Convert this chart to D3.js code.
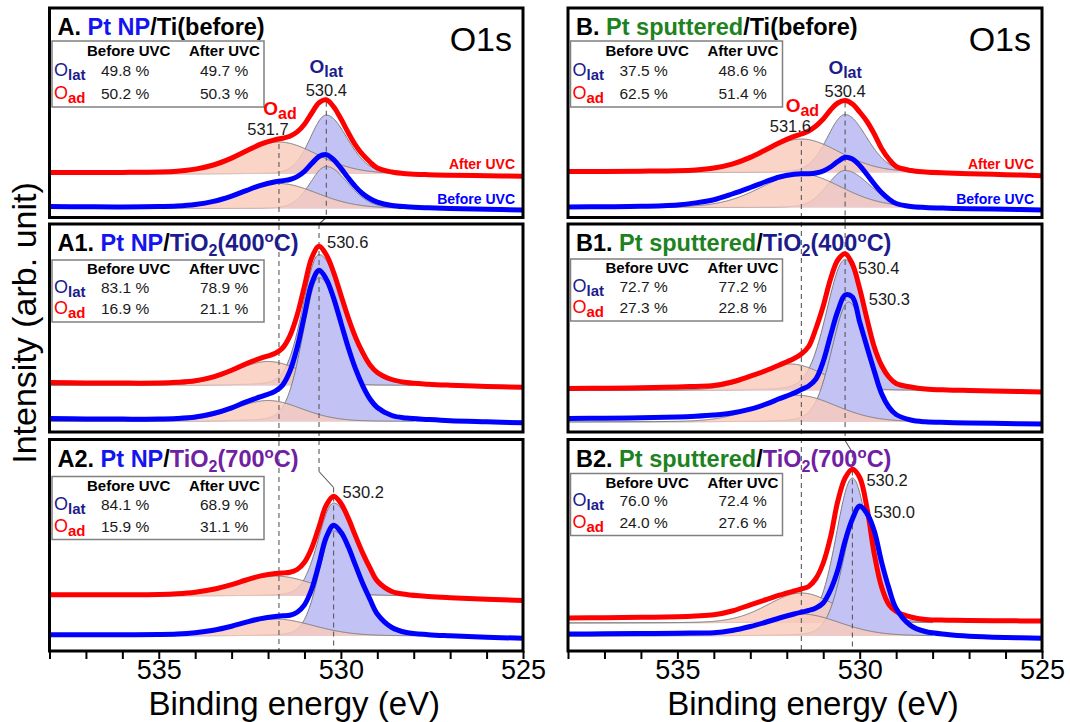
<!DOCTYPE html>
<html>
<head>
<meta charset="utf-8">
<script src="https://cdn.jsdelivr.net/npm/d3@7"></script>
<style>
  html, body { margin: 0; padding: 0; background: #ffffff; }
  svg { display: block; font-family: "Liberation Sans", Arial, Helvetica, sans-serif; }
</style>
</head>
<body>
<svg id="chart" width="1070" height="722"></svg>
<script>
// ---------------------------------------------------------------
// O 1s XPS spectra of Pt / Ti and Pt / TiO2 samples, before and
// after UVC exposure, with their O_lat / O_ad fit components.
// ---------------------------------------------------------------

// binding energies (eV) at which every measured spectrum is sampled
const energyGrid = [538, 537, 536, 535, 534.5, 534, 533.5, 533, 532.6, 532.2, 531.8, 531.6, 531.4, 531.2, 531.0,
                    530.8, 530.6, 530.4, 530.2, 530.0, 529.8, 529.6, 529.4, 529.2, 529.0, 528.6, 528.2, 527.6, 527, 526, 525];

// x axis
const energyDomain = [538, 525];
const tickEnergies = d3.range(538, 524, -1);
const labelledTicks = [535, 530, 525];
const fitWindow = [538, 528];

// panel titles
const panelLabel = ["A.", "A1.", "A2.", "B.", "B1.", "B2."];
const platinumForm = ["Pt NP", "Pt NP", "Pt NP", "Pt sputtered", "Pt sputtered", "Pt sputtered"];
const supportName = ["Ti(before)", "TiO", "TiO", "Ti(before)", "TiO", "TiO"];
const annealTemp = [null, 400, 700, null, 400, 700];

// O_lat / O_ad fractions (%)
const olatBefore = [49.8, 83.1, 84.1, 37.5, 72.7, 76.0];
const olatAfter  = [49.7, 78.9, 68.9, 48.6, 77.2, 72.4];
const oadBefore  = [50.2, 16.9, 15.9, 62.5, 27.3, 24.0];
const oadAfter   = [50.3, 21.1, 31.1, 51.4, 22.8, 27.6];

// fitted peak positions (eV)
const latCenterAfter  = [530.4, 530.6, 530.2, 530.4, 530.4, 530.2];
const latCenterBefore = [530.4, 530.6, 530.2, 530.4, 530.3, 530.0];
const adCenterAfter   = [531.7, 532.0, 531.8, 531.6, 531.9, 531.6];
const adCenterBefore  = [531.7, 532.0, 531.8, 531.6, 531.7, 531.6];

// fitted peak heights (arb. unit)
const latHeightAfter  = [59, 131, 93, 58, 131, 145];
const latHeightBefore = [42, 144, 105, 37, 120, 127];
const adHeightAfter   = [32, 24, 20, 33.5, 26.5, 30];
const adHeightBefore  = [25, 21, 17, 33.5, 26.7, 22];

// fitted widths (FWHM, eV); O_lat has separate high / low energy halves
const latWidthHiAfter  = [1.05, 1.05, 1.0, 1.15, 1.2, 1.05];
const latWidthLoAfter  = [1.36, 1.6, 1.45, 1.4, 1.2, 1.05];
const latWidthHiBefore = [1.05, 1.05, 0.95, 1.15, 1.1, 1.05];
const latWidthLoBefore = [1.4, 1.6, 1.55, 1.6, 1.15, 1.3];
const adWidthAfter     = [2.5, 2.2, 2.5, 2.5, 2.2, 2.2];
const adWidthBefore    = [2.5, 2.2, 2.5, 2.6, 2.5, 2.5];

// fit background level under the components (arb. unit)
const floorAfter  = [43.5, 46.5, 55, 45, 41.5, 28];
const floorBefore = [9, 10.5, 15, 10, 10, 15];

// measured intensities (arb. unit) on energyGrid
const specA_after   = [45.0, 45.0, 45.1, 45.5, 46.3, 48.4, 52.5, 59.4, 66.4, 73.3, 77.8, 79.3, 81.3, 85.6, 93.3, 104.5, 114.8, 117.7, 110.8, 98.7, 85.0, 72.4, 62.8, 55.5, 49.5, 45.5, 43.8, 42.8, 42.3, 41.8, 41.3];
const specA_before  = [10.9, 10.7, 10.6, 10.9, 11.5, 13.0, 16.1, 21.4, 26.9, 32.2, 35.7, 36.8, 38.0, 40.9, 46.2, 53.9, 61.0, 62.9, 57.9, 49.4, 39.7, 30.9, 23.7, 18.7, 15.4, 12.0, 10.7, 9.7, 9.0, 8.2, 7.5];
const specA1_after  = [49.4, 49.1, 48.9, 49.0, 49.7, 51.3, 55.2, 61.7, 68.3, 73.8, 78.8, 84.0, 96.1, 117.0, 146.0, 174.3, 185.7, 177.2, 159.7, 137.1, 114.5, 94.9, 79.3, 67.0, 59.5, 52.5, 49.5, 47.8, 46.8, 45.6, 44.8];
const specA1_before = [13.4, 13.1, 12.9, 12.9, 13.5, 15.0, 18.5, 24.2, 30.2, 35.3, 40.8, 46.9, 60.7, 84.4, 116.8, 148.6, 161.7, 152.8, 133.9, 109.4, 84.7, 63.3, 46.2, 33.0, 24.5, 16.5, 14.0, 12.5, 11.3, 10.2, 9.2];
const specA2_after  = [56.3, 56.3, 56.3, 56.6, 57.3, 58.8, 61.7, 66.4, 71.0, 75.1, 77.6, 78.0, 78.8, 81.5, 88.7, 103.0, 124.3, 145.8, 154.8, 147.7, 133.1, 115.1, 97.9, 83.0, 70.0, 59.5, 56.5, 54.5, 53.3, 51.8, 50.5];
const specA2_before = [16.3, 16.2, 16.2, 16.5, 17.0, 18.3, 20.8, 24.8, 28.8, 32.4, 34.6, 35.2, 35.8, 38.8, 46.2, 62.0, 87.3, 114.0, 125.8, 118.9, 104.5, 85.8, 67.4, 51.6, 37.0, 23.5, 18.5, 16.3, 15.2, 13.8, 12.7];
const specB_after   = [46.0, 46.0, 46.3, 46.8, 47.6, 49.5, 53.4, 60.1, 67.3, 74.8, 81.1, 83.5, 86.5, 91.5, 98.5, 107.5, 114.5, 117.0, 113.5, 105.5, 96.0, 83.5, 69.0, 58.5, 51.0, 47.0, 45.6, 44.6, 43.8, 42.8, 41.8];
const specB_before  = [10.6, 10.8, 11.2, 12.6, 14.6, 17.8, 23.5, 30.0, 35.5, 40.5, 43.2, 43.8, 43.8, 44.5, 46.5, 50.5, 56.0, 60.3, 58.5, 52.0, 43.0, 33.5, 25.0, 18.5, 14.0, 11.0, 10.0, 9.3, 8.8, 8.2, 7.6];
const specB1_after  = [43.5, 43.8, 44.2, 45.0, 45.6, 46.5, 50.0, 55.8, 61.0, 67.0, 73.5, 78.0, 85.5, 103.5, 126.0, 153.0, 172.0, 178.3, 168.0, 143.3, 113.0, 85.0, 66.5, 55.0, 48.5, 45.0, 43.0, 42.0, 41.5, 40.8, 40.0];
const specB1_before = [13.5, 13.8, 14.2, 15.0, 15.8, 17.0, 19.0, 22.8, 27.5, 33.3, 39.0, 42.5, 46.0, 53.0, 70.5, 96.5, 121.0, 137.0, 135.0, 110.0, 85.0, 61.0, 38.5, 25.0, 17.5, 12.0, 10.2, 9.5, 9.0, 8.5, 8.0];
const specB2_after  = [33.0, 33.3, 33.7, 34.3, 35.0, 36.2, 40.0, 46.2, 51.0, 55.8, 60.0, 62.0, 64.5, 72.5, 88.0, 114.0, 150.0, 173.0, 181.7, 173.5, 143.0, 97.0, 64.0, 46.5, 39.5, 34.0, 31.5, 30.8, 30.5, 30.2, 30.0];
const specB2_before = [17.0, 17.2, 17.5, 17.8, 18.0, 18.2, 20.5, 24.5, 28.5, 33.0, 37.0, 38.8, 40.5, 43.0, 48.0, 61.0, 81.0, 110.0, 132.0, 145.0, 137.5, 120.0, 89.0, 63.0, 42.5, 25.5, 19.5, 16.5, 14.8, 13.5, 12.8];

const spectraAfter  = [specA_after, specA1_after, specA2_after, specB_after, specB1_after, specB2_after];
const spectraBefore = [specA_before, specA1_before, specA2_before, specB_before, specB1_before, specB2_before];

// ---------------------------------------------------------------
// layout and styling
// ---------------------------------------------------------------
const FONT = '"Liberation Sans", Arial, Helvetica, sans-serif';
const COLORS = {
  after: "#ff0000", before: "#0000ff",
  adFill: "#f9cbbb", latFill: "#c2c2f4", compEdge: "#7c7c7c",
  guide: "#5a5a5a", navy: "#1c1c8c", ptNP: "#1414f0", ptSput: "#1e821e",
  t400: "#1c1c8c", t700: "#7020a0", box: "#808080"
};
const columns = [{ x0: 49.5, x1: 523 }, { x0: 568, x1: 1042 }];
const rows = [{ top: 8, bottom: 217.5 }, { top: 224, bottom: 432 }, { top: 439.5, bottom: 651 }];
const Y_SPAN = 210;
const boxTop = [33, 36, 37, 33, 35, 34];
const boxHeight = [66, 62, 63, 66, 62, 62];
// offsets of the peak-position labels from the apex of each spectrum [dx, dy]
const apexLabelAfter  = [null, [8, 2], [9, 2], null, [13, 20], [14, 17]];
const apexLabelBefore = [null, null, null, null, [20, 9.5], [14, 11.5]];

const GL_MIX = 0.15; // Lorentzian share of the Gaussian-Lorentzian lineshape
function glPeak(E, center, height, wHi, wLo) {
  const w = E >= center ? wHi : wLo;
  const r = (E - center) / w;
  return height * ((1 - GL_MIX) * Math.exp(-4 * Math.LN2 * r * r) + GL_MIX / (1 + 4 * r * r));
}

const svg = d3.select("#chart");
svg.append("rect").attr("width", 1070).attr("height", 722).attr("fill", "#ffffff");
const defs = svg.append("defs");

const xScales = columns.map(c => d3.scaleLinear().domain(energyDomain).range([c.x0, c.x1]));
const fitEnergies = d3.range(fitWindow[0], fitWindow[1] - 1e-9, -0.02);

function richText(parent, x, y, anchor, base, runs) {
  const t = parent.append("text")
    .attr("x", x).attr("y", y).attr("text-anchor", anchor)
    .attr("font-family", FONT)
    .attr("font-size", base.size)
    .attr("font-weight", base.weight || "normal")
    .attr("fill", base.fill || "#000");
  let shift = 0;
  runs.forEach(r => {
    const ts = t.append("tspan").text(r.t);
    const target = r.shift || 0;
    if (target !== shift) { ts.attr("dy", target - shift); shift = target; }
    if (r.fill) ts.attr("fill", r.fill);
    if (r.size) ts.attr("font-size", r.size);
    if (r.weight) ts.attr("font-weight", r.weight);
  });
  return t;
}

function titleRuns(i) {
  const ptColor = platinumForm[i] === "Pt NP" ? COLORS.ptNP : COLORS.ptSput;
  const runs = [{ t: panelLabel[i] + " " }, { t: platinumForm[i], fill: ptColor }, { t: "/" }];
  if (annealTemp[i] === null) {
    runs.push({ t: supportName[i] });
  } else {
    const c = annealTemp[i] === 400 ? COLORS.t400 : COLORS.t700;
    runs.push(
      { t: supportName[i], fill: c },
      { t: "2", fill: c, size: 16, shift: 5 },
      { t: "(" + annealTemp[i], fill: c, shift: 0 },
      { t: "o", fill: c, size: 15, shift: -9 },
      { t: "C)", fill: c, shift: 0 }
    );
  }
  return runs;
}

const fillLayer = svg.append("g");
const guideLayer = svg.append("g");
const lineLayer = svg.append("g");
const frameLayer = svg.append("g");
const textLayer = svg.append("g");

const panelScales = [];

for (let i = 0; i < 6; i++) {
  const col = Math.floor(i / 3), row = i % 3;
  const c = columns[col], r = rows[row];
  const x = xScales[col];
  const y = d3.scaleLinear().domain([0, Y_SPAN]).range([r.bottom, r.bottom - Y_SPAN]);
  panelScales.push({ x, y, c, r });

  const clipId = "clip" + i;
  defs.append("clipPath").attr("id", clipId)
    .append("rect").attr("x", c.x0).attr("y", r.top).attr("width", c.x1 - c.x0).attr("height", r.bottom - r.top);

  // fit components: O_lat under O_ad, the "after UVC" set first
  const fills = fillLayer.append("g").attr("clip-path", `url(#${clipId})`);
  const sets = [
    { lc: latCenterAfter[i], lh: latHeightAfter[i], lwh: latWidthHiAfter[i], lwl: latWidthLoAfter[i],
      ac: adCenterAfter[i], ah: adHeightAfter[i], aw: adWidthAfter[i], floor: floorAfter[i] },
    { lc: latCenterBefore[i], lh: latHeightBefore[i], lwh: latWidthHiBefore[i], lwl: latWidthLoBefore[i],
      ac: adCenterBefore[i], ah: adHeightBefore[i], aw: adWidthBefore[i], floor: floorBefore[i] }
  ];
  sets.forEach(s => {
    const comps = [
      { f: E => glPeak(E, s.lc, s.lh, s.lwh, s.lwl), fill: COLORS.latFill, op: 1 },
      { f: E => glPeak(E, s.ac, s.ah, s.aw, s.aw), fill: COLORS.adFill, op: 0.82 }
    ];
    comps.forEach(cp => {
      fills.append("path").datum(fitEnergies)
        .attr("d", d3.area().x(E => x(E)).y0(y(s.floor)).y1(E => y(s.floor + cp.f(E))))
        .attr("fill", cp.fill).attr("fill-opacity", cp.op);
      fills.append("path").datum(fitEnergies)
        .attr("d", d3.line().x(E => x(E)).y(E => y(s.floor + cp.f(E))))
        .attr("fill", "none").attr("stroke", COLORS.compEdge).attr("stroke-width", 1);
    });
  });

  // measured spectra
  const lines = lineLayer.append("g").attr("clip-path", `url(#${clipId})`);
  const spectrumLine = d3.line()
    .x((v, k) => x(energyGrid[k]))
    .y(v => y(v))
    .curve(d3.curveCatmullRom.alpha(0.5));
  lines.append("path").datum(spectraAfter[i]).attr("d", spectrumLine)
    .attr("fill", "none").attr("stroke", COLORS.after).attr("stroke-width", 5)
    .attr("stroke-linejoin", "round").attr("stroke-linecap", "round");
  lines.append("path").datum(spectraBefore[i]).attr("d", spectrumLine)
    .attr("fill", "none").attr("stroke", COLORS.before).attr("stroke-width", 5)
    .attr("stroke-linejoin", "round").attr("stroke-linecap", "round");

  // frame
  frameLayer.append("rect")
    .attr("x", c.x0).attr("y", r.top).attr("width", c.x1 - c.x0).attr("height", r.bottom - r.top)
    .attr("fill", "none").attr("stroke", "#000").attr("stroke-width", 3);

  // title
  richText(textLayer, c.x0 + 8, r.top + 27, "start", { size: 23.5, weight: "bold" }, titleRuns(i));

  // fraction table
  const bx = c.x0 + 2.5, by = r.top + boxTop[i], bh = boxHeight[i], bw = 212;
  textLayer.append("rect").attr("x", bx).attr("y", by).attr("width", bw).attr("height", bh)
    .attr("fill", "#ffffff").attr("stroke", COLORS.box).attr("stroke-width", 1.5);
  const hy = by + 0.23 * bh, r1 = by + 0.53 * bh, r2 = by + 0.875 * bh;
  textLayer.append("text").attr("x", bx + 35).attr("y", hy).attr("font-size", 15).attr("font-weight", "bold").text("Before UVC");
  textLayer.append("text").attr("x", bx + 137).attr("y", hy).attr("font-size", 15).attr("font-weight", "bold").text("After UVC");
  richText(textLayer, bx + 2, r1, "start", { size: 18, fill: COLORS.navy }, [{ t: "O" }, { t: "lat", size: 15, weight: "bold", shift: 4 }]);
  richText(textLayer, bx + 2, r2, "start", { size: 18, fill: COLORS.after }, [{ t: "O" }, { t: "ad", size: 15, weight: "bold", shift: 4 }]);
  const pct = v => v.toFixed(1) + " %";
  [[olatBefore[i], 49, r1], [olatAfter[i], 148, r1], [oadBefore[i], 49, r2], [oadAfter[i], 148, r2]].forEach(d => {
    textLayer.append("text").attr("x", bx + d[1]).attr("y", d[2]).attr("font-size", 15.5).attr("fill", "#1a1a1a").text(pct(d[0]));
  });

  // top panels: component names, "O1s", series names
  if (row === 0) {
    const latTopY = y(d3.max(spectraAfter[i]));
    const adTopY = y(floorAfter[i] + adHeightAfter[i]);
    const lx = x(latCenterAfter[i]), ax = x(adCenterAfter[i]);
    richText(textLayer, lx, latTopY - 27, "middle", { size: 19, weight: "bold", fill: COLORS.navy },
      [{ t: "O" }, { t: "lat", size: 16, shift: 4 }]);
    textLayer.append("text").attr("x", lx).attr("y", latTopY - 3.5).attr("text-anchor", "middle")
      .attr("font-size", 16.5).attr("fill", "#1a1a1a").text(latCenterAfter[i].toFixed(1));
    richText(textLayer, ax + 1, adTopY - 27, "middle", { size: 19, weight: "bold", fill: COLORS.after },
      [{ t: "O" }, { t: "ad", size: 16, shift: 4 }]);
    textLayer.append("text").attr("x", ax - 11).attr("y", adTopY - 7.5).attr("text-anchor", "middle")
      .attr("font-size", 16.5).attr("fill", "#1a1a1a").text(adCenterAfter[i].toFixed(1));
    textLayer.append("text").attr("x", c.x1 - 11).attr("y", r.top + 43).attr("text-anchor", "end")
      .attr("font-size", 34).attr("fill", "#000").text("O1s");
    textLayer.append("text").attr("x", c.x1 - 8).attr("y", r.top + 161).attr("text-anchor", "end")
      .attr("font-size", 14).attr("font-weight", "bold").attr("fill", COLORS.after).text("After UVC");
    textLayer.append("text").attr("x", c.x1 - 8).attr("y", r.top + 196).attr("text-anchor", "end")
      .attr("font-size", 14).attr("font-weight", "bold").attr("fill", COLORS.before).text("Before UVC");
  } else {
    if (apexLabelAfter[i]) {
      const o = apexLabelAfter[i];
      textLayer.append("text").attr("x", x(latCenterAfter[i]) + o[0]).attr("y", y(d3.max(spectraAfter[i])) + o[1])
        .attr("font-size", 16.5).attr("fill", "#1a1a1a").text(latCenterAfter[i].toFixed(1));
    }
    if (apexLabelBefore[i]) {
      const o = apexLabelBefore[i];
      textLayer.append("text").attr("x", x(latCenterBefore[i]) + o[0]).attr("y", y(d3.max(spectraBefore[i])) + o[1])
        .attr("font-size", 16.5).attr("fill", "#1a1a1a").text(latCenterBefore[i].toFixed(1));
    }
  }
}

// guide lines through the O_ad and O_lat positions of each column
for (let col = 0; col < 2; col++) {
  const x = xScales[col];
  const top = col * 3;
  const adE = adCenterAfter[top];
  const adStart = panelScales[top].y(floorAfter[top] + adHeightAfter[top]) + 2;
  guideLayer.append("line")
    .attr("x1", x(adE)).attr("x2", x(adE)).attr("y1", adStart).attr("y2", rows[2].bottom)
    .attr("stroke", COLORS.guide).attr("stroke-width", 1.1).attr("stroke-dasharray", "5,4");

  // O_lat: follows the after-UVC peak position panel by panel
  const e0 = latCenterAfter[top], e1 = latCenterAfter[top + 1], e2 = latCenterAfter[top + 2];
  const latStart = panelScales[top].y(d3.max(spectraAfter[top])) + 2;
  const segs = [
    [e0, latStart, e0, rows[0].bottom, true],
    [e0, rows[0].bottom, e1, rows[1].top, false],
    [e1, rows[1].top, e1, rows[2].top + (col === 0 ? 32 : 1), true],
    [e1, rows[2].top + (col === 0 ? 32 : 1), e2, rows[2].top + (col === 0 ? 48 : 13), false],
    [e2, rows[2].top + (col === 0 ? 48 : 13), e2, rows[2].bottom, true]
  ];
  segs.forEach(s => {
    const ln = guideLayer.append("line")
      .attr("x1", x(s[0])).attr("y1", s[1]).attr("x2", x(s[2])).attr("y2", s[3])
      .attr("stroke", COLORS.guide).attr("stroke-width", 1.1);
    if (s[4]) ln.attr("stroke-dasharray", "5,4");
  });
}

// energy axes under the bottom panels
for (let col = 0; col < 2; col++) {
  const x = xScales[col];
  const axis = d3.axisBottom(x)
    .tickValues(tickEnergies)
    .tickSize(8)
    .tickPadding(0.5)
    .tickFormat(d => labelledTicks.includes(d) ? d3.format("d")(d) : "");
  const g = svg.append("g").attr("transform", `translate(0,${rows[2].bottom})`).call(axis);
  g.select(".domain").remove();
  g.selectAll(".tick line").attr("stroke", "#000").attr("stroke-width", 2);
  g.selectAll(".tick text").attr("font-size", 27).attr("font-family", FONT).attr("fill", "#000");
  svg.append("text")
    .attr("x", (columns[col].x0 + columns[col].x1) / 2 + 8).attr("y", 715)
    .attr("text-anchor", "middle").attr("font-size", 33).attr("fill", "#000")
    .text("Binding energy (eV)");
}

svg.append("text")
  .attr("transform", "translate(36,323) rotate(-90)")
  .attr("text-anchor", "middle").attr("font-size", 34).attr("fill", "#000")
  .text("Intensity (arb. unit)");
</script>
</body>
</html>
